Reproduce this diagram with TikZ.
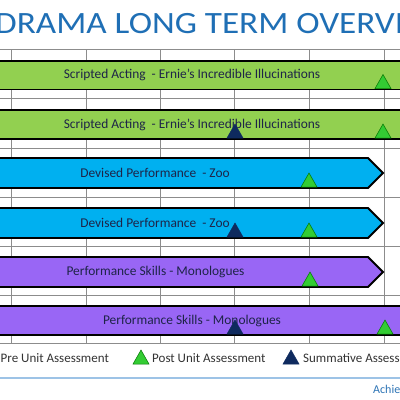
\documentclass[tikz,border=0pt]{standalone}
\usepackage{fontspec}
\setmainfont{Carlito}
\definecolor{titleblue}{HTML}{1F6FB5}
\definecolor{bargreen}{HTML}{92D050}
\definecolor{barblue}{HTML}{00B0F0}
\definecolor{barpurple}{HTML}{9966F5}
\definecolor{trigreen}{HTML}{33CC33}
\definecolor{trinavy}{HTML}{0E2A5E}
\definecolor{bartext}{HTML}{1E2448}
\definecolor{rulecol}{HTML}{9DC3E6}
\definecolor{achieve}{HTML}{2E75B6}
\begin{document}
\begin{tikzpicture}[x=1pt,y=-1pt,
  gridline/.style={draw=black!45, line width=0.8pt},
  barshape/.style={draw=black, line width=1.8pt, line join=miter},
  bartxt/.style={font=\fontsize{13.4}{15}\selectfont, text=bartext, inner sep=0pt},
  legtxt/.style={font=\fontsize{13}{15}\selectfont, text=black!80, inner sep=0pt, anchor=base west},
  posttri/.pic={\filldraw[fill=trigreen, draw=green!45!black, line width=0.5pt] (-8,0) -- (8,0) -- (0,-14) -- cycle;},
  sumtri/.pic={\filldraw[fill=trinavy, draw=trinavy, line width=0.5pt] (-8,0) -- (8,0) -- (0,-14) -- cycle;}
]
\useasboundingbox (0,0) rectangle (400,400);
\clip (0,0) rectangle (400,400);
\fill[white] (0,0) rectangle (400,400);
% title
\node[anchor=base west, inner sep=0pt, text=titleblue, font=\fontsize{31}{34}\selectfont] (title) at (-5,33.5) {\scalebox{1.135}[1]{DRAMA LONG TERM OVERVI}};
% grid
\foreach \x in {11,86,160.7,234.7,309.3,384} \draw[gridline] (\x,49) -- (\x,343);
\foreach \y in {49,98,148,197,246,295,343} \draw[gridline] (-5,\y) -- (405,\y);
% bars
\draw[barshape, fill=bargreen] (-5,61) rectangle (405,89.5);
\draw[barshape, fill=bargreen] (-5,110) rectangle (405,139);
\draw[barshape, fill=barblue] (-5,158) -- (368,158) -- (383,173) -- (368,188) -- (-5,188) -- cycle;
\draw[barshape, fill=barblue] (-5,208) -- (368,208) -- (383,223) -- (368,238) -- (-5,238) -- cycle;
\draw[barshape, fill=barpurple] (-5,257) -- (368,257) -- (383,272) -- (368,287) -- (-5,287) -- cycle;
\draw[barshape, fill=barpurple] (-5,306) rectangle (405,335);
% bar labels
\node[bartxt] (t1) at (192,75) {Scripted Acting\ \ - Ernie's Incredible Illucinations};
\node[bartxt] (t2) at (192,124.5) {Scripted Acting\ \ - Ernie's Incredible Illucinations};
\node[bartxt] (t3) at (155,173) {Devised Performance\ \ - Zoo};
\node[bartxt] (t4) at (155,222.5) {Devised Performance\ \ - Zoo};
\node[bartxt] (t5) at (155.5,272) {Performance Skills - Monologues};
\node[bartxt] (t6) at (192,320.5) {Performance Skills - Monologues};
% markers
\pic at (383,88.5) {posttri};
\pic at (235,138) {sumtri};
\pic at (383,138) {posttri};
\pic at (309,187) {posttri};
\pic at (235,237) {sumtri};
\pic at (309,237) {posttri};
\pic at (310,286) {posttri};
\pic at (235,334) {sumtri};
\pic at (385,334) {posttri};
% legend
\node[legtxt] (l1) at (0.5,362) {Pre Unit Assessment};
\pic at (141,364) {posttri};
\node[legtxt] (l2) at (152,362) {Post Unit Assessment};
\pic at (291,364) {sumtri};
\node[legtxt] (l3) at (303,362) {Summative Assess};
\draw[rulecol, line width=1.2pt] (-5,378) -- (405,378);
\node[anchor=base west, inner sep=0pt, text=achieve, font=\fontsize{12}{14}\selectfont] (ach) at (373,393) {Achie};
\end{tikzpicture}
\end{document}
